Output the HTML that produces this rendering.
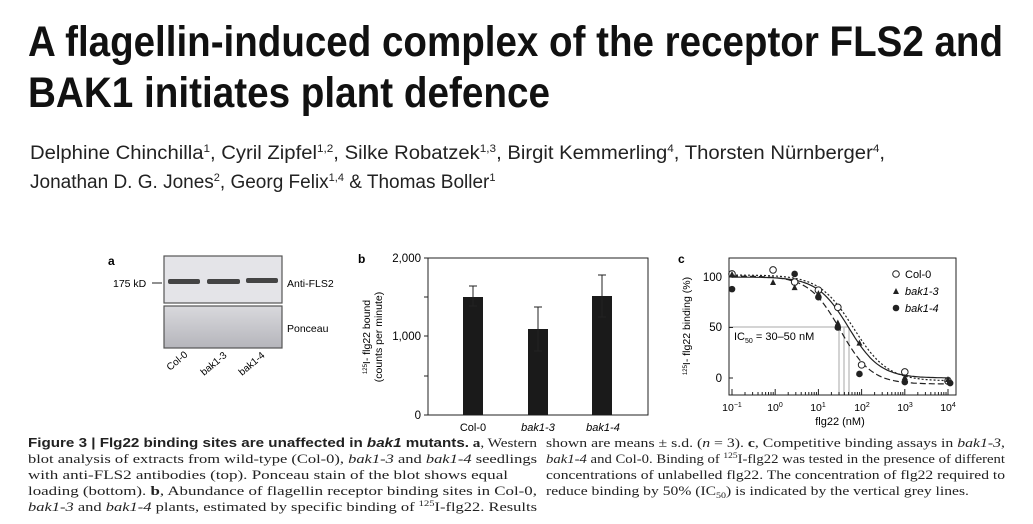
<!DOCTYPE html>
<html><head><meta charset="utf-8"><style>
html,body{margin:0;padding:0;background:#fff;width:1033px;height:524px;overflow:hidden}
svg text{font-family:"Liberation Sans",sans-serif}
svg .sf text{font-family:"Liberation Serif",serif}
</style></head><body>
<svg width="1033" height="524" viewBox="0 0 1033 524" xmlns="http://www.w3.org/2000/svg">
<defs>
<linearGradient id="pg" x1="0" y1="0" x2="0" y2="1"><stop offset="0" stop-color="#d9d9dd"/><stop offset="1" stop-color="#b5b5bb"/></linearGradient>
</defs>
<!-- Title -->
<text x="28" y="56" font-size="43" font-weight="bold" textLength="975" lengthAdjust="spacingAndGlyphs" fill="#111">A flagellin-induced complex of the receptor FLS2 and</text>
<text x="28" y="107" font-size="43" font-weight="bold" textLength="522" lengthAdjust="spacingAndGlyphs" fill="#111">BAK1 initiates plant defence</text>
<!-- Authors -->
<text x="30" y="159" font-size="19" fill="#222" textLength="855" lengthAdjust="spacingAndGlyphs">Delphine Chinchilla<tspan font-size="11" dy="-7">1</tspan><tspan dy="7">, Cyril Zipfel</tspan><tspan font-size="11" dy="-7">1,2</tspan><tspan dy="7">, Silke Robatzek</tspan><tspan font-size="11" dy="-7">1,3</tspan><tspan dy="7">, Birgit Kemmerling</tspan><tspan font-size="11" dy="-7">4</tspan><tspan dy="7">, Thorsten Nürnberger</tspan><tspan font-size="11" dy="-7">4</tspan><tspan dy="7">,</tspan></text>
<text x="30" y="188" font-size="19" fill="#222">Jonathan D. G. Jones<tspan font-size="11" dy="-7">2</tspan><tspan dy="7">, Georg Felix</tspan><tspan font-size="11" dy="-7">1,4</tspan><tspan dy="7"> &amp; Thomas Boller</tspan><tspan font-size="11" dy="-7">1</tspan></text>

<!-- Panel a -->
<text x="108" y="265" font-size="12" font-weight="bold">a</text>
<rect x="164" y="256" width="118" height="47" fill="#e4e4e8" stroke="#555" stroke-width="1.2"/>
<rect x="168" y="279" width="32" height="5" rx="2" fill="#444"/>
<rect x="207" y="279" width="33" height="5" rx="2" fill="#444"/>
<rect x="246" y="278" width="32" height="5" rx="2" fill="#444"/>
<rect x="164" y="306" width="118" height="42" fill="url(#pg)" stroke="#555" stroke-width="1.2"/>
<text x="113" y="287" font-size="10.5">175 kD</text>
<line x1="152" y1="283" x2="162" y2="283" stroke="#222"/>
<text x="287" y="287" font-size="10.5">Anti-FLS2</text>
<text x="287" y="332" font-size="10.5">Ponceau</text>
<text transform="translate(170,371) rotate(-40)" font-size="10">Col-0</text>
<text transform="translate(204,376) rotate(-40)" font-size="10">bak1-3</text>
<text transform="translate(242,376) rotate(-40)" font-size="10">bak1-4</text>

<!-- Panel b -->
<text x="358" y="263" font-size="12" font-weight="bold">b</text>
<rect x="428" y="258" width="220" height="157" fill="none" stroke="#222" stroke-width="1"/>
<g stroke="#222"><line x1="424" y1="258" x2="428" y2="258"/><line x1="424" y1="297" x2="428" y2="297"/><line x1="424" y1="336" x2="428" y2="336"/><line x1="424" y1="376" x2="428" y2="376"/><line x1="424" y1="415" x2="428" y2="415"/></g>
<g font-size="11.5" text-anchor="end"><text x="421" y="262">2,000</text><text x="421" y="340">1,000</text><text x="421" y="419">0</text></g>
<text transform="translate(370,337) rotate(-90)" font-size="10.5" text-anchor="middle"><tspan font-size="6" dy="-3">125</tspan><tspan dy="3">I- flg22 bound</tspan></text>
<text transform="translate(382,337) rotate(-90)" font-size="10.5" text-anchor="middle">(counts per minute)</text>
<g fill="#1a1a1a"><rect x="463" y="297" width="20" height="118"/><rect x="528" y="329" width="20" height="86"/><rect x="592" y="296" width="20" height="119"/></g>
<g stroke="#222" fill="none">
<path d="M473 286V306M469 286H477M469 306H477"/>
<path d="M538 307V351M534 307H542M534 351H542"/>
<path d="M602 275V317M598 275H606M598 317H606"/>
</g>
<g font-size="11" text-anchor="middle"><text x="473" y="431">Col-0</text><text x="538" y="431" font-style="italic">bak1-3</text><text x="603" y="431" font-style="italic">bak1-4</text></g>

<!-- Panel c -->
<text x="678" y="263" font-size="12" font-weight="bold">c</text>
<g id="cplot"></g>
<rect x="729" y="258" width="227" height="137" fill="none" stroke="#222" stroke-width="1"/>
<g font-size="11.5" text-anchor="end"><text x="722" y="281">100</text><text x="722" y="331">50</text><text x="722" y="382">0</text></g>
<text transform="translate(690,326) rotate(-90)" font-size="10.5" text-anchor="middle"><tspan font-size="6" dy="-3">125</tspan><tspan dy="3">I- flg22 binding (%)</tspan></text>
<g font-size="10.5" text-anchor="middle"><text x="732" y="411">10<tspan font-size="7" dy="-4">−1</tspan></text><text x="775" y="411">10<tspan font-size="7" dy="-4">0</tspan></text><text x="818" y="411">10<tspan font-size="7" dy="-4">1</tspan></text><text x="862" y="411">10<tspan font-size="7" dy="-4">2</tspan></text><text x="905" y="411">10<tspan font-size="7" dy="-4">3</tspan></text><text x="948" y="411">10<tspan font-size="7" dy="-4">4</tspan></text></g>
<text x="840" y="425" font-size="11" text-anchor="middle">flg22 (nM)</text>
<text x="734" y="340" font-size="11">IC<tspan font-size="7" dy="3">50</tspan><tspan dy="-3"> = 30–50 nM</tspan></text>
<circle cx="896" cy="274" r="3.3" fill="#fff" stroke="#222"/><text x="905" y="278" font-size="11">Col-0</text>
<path d="M893 294L896 288L899 294Z" fill="#222"/><text x="905" y="295" font-size="11" font-style="italic">bak1-3</text>
<circle cx="896" cy="308" r="3.3" fill="#222"/><text x="905" y="312" font-size="11" font-style="italic">bak1-4</text>

<!-- Caption -->
<g class="sf" font-size="12.5" fill="#222">
<text x="28" y="447" textLength="509" lengthAdjust="spacingAndGlyphs"><tspan style="font-family:'Liberation Sans',sans-serif" font-weight="bold">Figure 3 | Flg22 binding sites are unaffected in <tspan font-style="italic">bak1</tspan> mutants.</tspan> <tspan font-weight="bold">a</tspan>, Western</text>
<text x="28" y="463" textLength="509" lengthAdjust="spacingAndGlyphs">blot analysis of extracts from wild-type (Col-0), <tspan font-style="italic">bak1-3</tspan> and <tspan font-style="italic">bak1-4</tspan> seedlings</text>
<text x="28" y="479" textLength="480" lengthAdjust="spacingAndGlyphs">with anti-FLS2 antibodies (top). Ponceau stain of the blot shows equal</text>
<text x="28" y="495" textLength="509" lengthAdjust="spacingAndGlyphs">loading (bottom). <tspan font-weight="bold">b</tspan>, Abundance of flagellin receptor binding sites in Col-0,</text>
<text x="28" y="511" textLength="509" lengthAdjust="spacingAndGlyphs"><tspan font-style="italic">bak1-3</tspan> and <tspan font-style="italic">bak1-4</tspan> plants, estimated by specific binding of <tspan font-size="8" dy="-5">125</tspan><tspan dy="5">I-flg22. Results</tspan></text>
<text x="546" y="447" textLength="459" lengthAdjust="spacingAndGlyphs">shown are means ± s.d. (<tspan font-style="italic">n</tspan> = 3). <tspan font-weight="bold">c</tspan>, Competitive binding assays in <tspan font-style="italic">bak1-3</tspan>,</text>
<text x="546" y="463" textLength="459" lengthAdjust="spacingAndGlyphs"><tspan font-style="italic">bak1-4</tspan> and Col-0. Binding of <tspan font-size="8" dy="-5">125</tspan><tspan dy="5">I-flg22 was tested in the presence of different</tspan></text>
<text x="546" y="479" textLength="459" lengthAdjust="spacingAndGlyphs">concentrations of unlabelled flg22. The concentration of flg22 required to</text>
<text x="546" y="495" textLength="423" lengthAdjust="spacingAndGlyphs">reduce binding by 50% (IC<tspan font-size="8" dy="3">50</tspan><tspan dy="-3">) is indicated by the vertical grey lines.</tspan></text>
</g>
</svg>
<script>
(function(){
var g=document.getElementById('cplot'),s='';
function X(l){return 732+(l+1)*43.2}function Y(v){return 378-v*1.01}
s+='<g stroke="#bbb" stroke-width="1.3"><line x1="729" y1="327" x2="849" y2="327"/><line x1="839" y1="327" x2="839" y2="395"/><line x1="844" y1="327" x2="844" y2="395"/><line x1="849" y1="327" x2="849" y2="395"/></g>';
var t='';[0,50,100].forEach(function(v){t+='M729 '+Y(v)+'h4 ';});
for(var d=-1;d<4;d++)for(var k=1;k<10;k++){var x=X(d+Math.log10(k));t+='M'+x+' 395v'+(k==1?-6:-3)+' ';}
t+='M'+X(4)+' 395v-6';
s+='<path d="'+t+'" stroke="#222" fill="none"/>';
function curve(ic,bot,top,h,dash){var p='';for(var l=-1;l<=4.05;l+=0.05){var v=bot+(top-bot)/(1+Math.pow(Math.pow(10,l)/ic,h));p+=(p?'L':'M')+X(l).toFixed(1)+' '+Y(v).toFixed(1);}
return '<path d="'+p+'" fill="none" stroke="#222" stroke-width="1.2" '+(dash?'stroke-dasharray="'+dash+'"':'')+'/>';}
s+=curve(50,0,100,1.2,'');s+=curve(65,-3,102,1.1,'2 2');s+=curve(32,-6,101,1.2,'6 3');
[[-1,103],[-0.05,107],[0.45,95],[1,87],[1.45,70],[2,13],[3,6],[4,-3]].forEach(function(p){s+='<circle cx="'+X(p[0])+'" cy="'+Y(p[1])+'" r="3.3" fill="#fff" stroke="#222"/>';});
[[-1,103],[-0.05,95],[0.45,90],[1,84],[1.45,55],[1.95,35],[3,1],[4,-1]].forEach(function(p){var x=X(p[0]),y=Y(p[1]);s+='<path d="M'+(x-3)+' '+(y+3)+'L'+x+' '+(y-3)+'L'+(x+3)+' '+(y+3)+'Z" fill="#222"/>';});
[[-1,88],[0.45,103],[1,80],[1.45,50],[1.95,4],[3,-4],[4.05,-5]].forEach(function(p){s+='<circle cx="'+X(p[0])+'" cy="'+Y(p[1])+'" r="3.3" fill="#222"/>';});
g.innerHTML=s;
})();
</script>
</body></html>
